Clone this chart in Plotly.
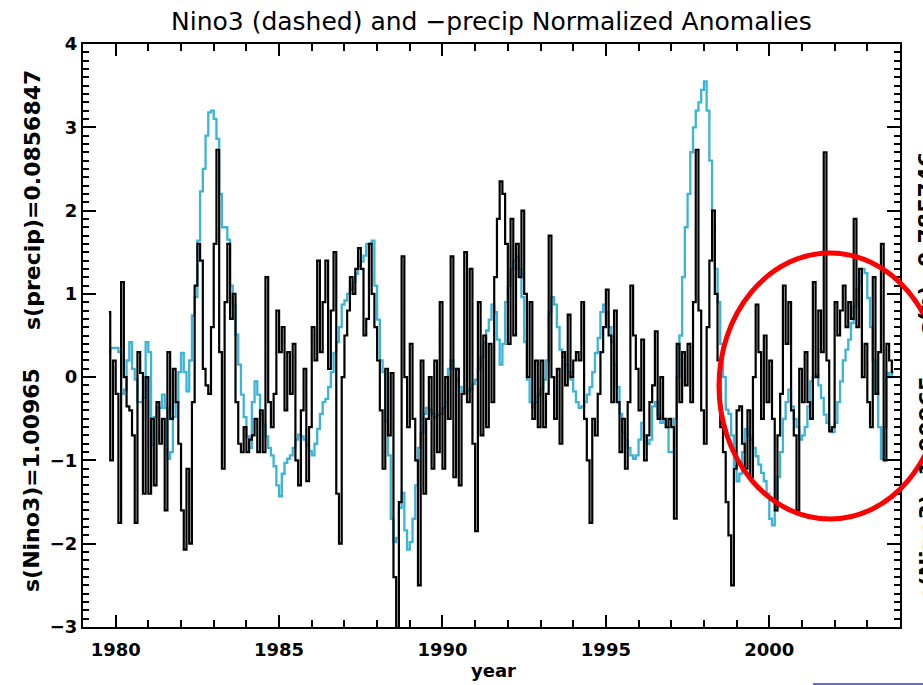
import plotly.graph_objects as go

# ---- data: monthly normalized anomalies, Oct 1979 .. Oct 2003 ----
start_year, start_month = 1979, 10

nino3 = [
    0.29, 0.35, 0.35,
    0.35, 0.30, -0.20, -0.15, 0.20, 0.42, 0.10, -0.03, -0.30, -0.30, -0.25, 0.42,
    0.30, -0.82, -0.48, -0.37, -0.37, -0.21, -0.37, -0.98, -0.90, -0.48, -0.30, 0.06,
    0.29, 0.06, -0.17, 0.20, 0.74, 0.96, 1.64, 2.23, 2.50, 2.90, 3.18, 3.20,
    3.10, 2.86, 2.20, 1.80, 1.80, 1.65, 1.10, 0.87, 0.51, 0.15, -0.21, -0.48,
    -0.71, -0.85, -0.30, -0.05, -0.21, -0.44, -0.57, -0.71, -0.85, -0.94, -1.07, -1.30,
    -1.43, -1.16, -1.03, -0.98, -0.94, -0.85, -0.75, -0.69, -0.71, -0.75, -0.82, -0.89,
    -0.94, -0.80, -0.62, -0.44, -0.30, -0.26, -0.12, 0.06, 0.29, 0.42, 0.60, 0.87,
    0.92, 1.00, 1.05, 1.14, 1.24, 1.33, 1.39, 1.46, 1.60, 1.60, 1.64, 1.10,
    0.69, 0.20, 0.06, -0.53, -0.94, -1.70, -1.98, -1.93, -1.57, -1.39, -1.84, -2.07,
    -1.98, -1.70, -1.30, -0.85, -0.67, -0.44, -0.37, -0.39, -0.44, -0.48, -0.46, -0.44,
    -0.37, -0.30, 0.10, 0.20, 0.10, -0.03, -0.12, -0.17, -0.19, -0.17, -0.15, -0.08,
    -0.03, 0.10, 0.24, 0.42, 0.56, 0.69, 0.87, 0.78, 0.45, 0.15, 0.40, 0.90,
    1.10, 1.30, 1.40, 1.45, 1.30, 0.96, 0.42, -0.03, -0.30, -0.37, -0.30, -0.21,
    -0.14, -0.03, 0.20, 0.78, 0.96, 0.87, 0.60, 0.33, 0.24, 0.15, 0.06, -0.03,
    -0.17, -0.30, -0.37, -0.35, -0.30, -0.21, -0.12, 0.06, 0.29, 0.47, 0.78, 0.87,
    0.78, 0.60, 0.42, 0.15, -0.12, -0.44, -0.67, -0.75, -0.85, -0.94, -0.98, -0.94,
    -0.75, -0.55, -0.70, -0.80, -0.75, -0.35, -0.30, -0.45, -0.55, -0.50, -0.60, -0.90,
    -0.90, -0.50, 0.00, 0.50, 1.20, 1.80, 2.20, 2.70, 3.00, 3.20, 3.30, 3.45,
    3.55, 3.20, 2.60, 2.00, 1.30, 0.90, 0.40, 0.00, -0.39, -0.44, -0.70, -1.07,
    -1.25, -1.16, -0.90, -0.62, -0.70, -0.75, -0.85, -0.95, -1.05, -1.15, -1.25, -1.40,
    -1.70, -1.78, -1.60, -1.20, -0.90, -0.50, -0.30, -0.15, -0.35, -0.50, -0.60, -0.75,
    -0.70, -0.60, -0.35, -0.05, 0.00, 0.02, -0.10, -0.25, -0.45, -0.55, -0.62, -0.66,
    -0.55, -0.30, -0.05, 0.20, 0.33, 0.45, 0.65, 0.85, 1.05, 1.15, 1.30, 1.25,
    0.95, 0.60, 0.20, -0.20, -0.60, -0.98, -0.60, 0.05, 0.00, 0.05,
]

neg_precip = [
    0.78, -1.00, 0.20,
    -0.20, -1.75, 1.14, 0.00, -0.35, -0.40, -0.70, -1.75, 0.30, 0.05, -1.40, 0.00,
    -1.40, -0.50, -1.30, -0.30, -0.80, -0.50, -1.60, 0.30, -0.50, 0.10, -0.30, -0.80,
    -1.60, -2.07, -1.10, -2.00, -0.30, 1.10, 1.60, 1.40, 0.10, -0.10, -0.20, 0.60,
    1.60, 2.73, 0.30, -1.10, 0.90, 1.60, 0.70, 1.00, -0.30, -0.80, -0.90, -0.60,
    -0.90, -0.75, -0.70, -0.50, -0.90, -0.40, -0.90, 1.20, -0.30, -0.60, -0.20, 0.80,
    0.30, 0.60, -0.40, 0.30, -0.20, 0.40, -1.00, -1.30, -0.40, 0.10, -1.25, -0.60,
    0.60, 0.20, 1.40, 0.30, 0.90, 1.40, 0.10, 0.80, 1.50, -1.40, -2.00, 0.00,
    0.50, 0.80, 1.20, 1.00, 1.30, 1.55, 1.30, 0.50, 0.70, 1.60, 1.00, 0.60,
    0.20, -0.40, -1.10, 0.10, -0.70, 0.05, -2.40, -3.20, -1.50, 1.45, 0.00, -0.60,
    0.40, -0.50, -1.00, -2.50, 0.20, -1.40, -0.50, 0.00, -1.10, 0.20, -0.90, 0.90,
    -1.10, 0.00, -0.50, 1.45, -1.20, 0.10, -1.30, -0.20, 1.50, -0.30, 1.30, -0.80,
    -1.85, 0.90, -0.70, 0.50, -0.60, 0.40, -0.30, 1.20, 1.90, 2.35, 2.20, 1.60,
    0.40, 1.90, 0.50, 1.60, 1.20, 2.00, 1.00, 0.00, 0.90, -0.50, 0.20, -0.60,
    0.20, -0.60, -0.20, 1.70, 0.00, -0.50, 0.10, -0.80, 0.30, -0.10, 0.75, 0.00,
    0.20, 0.30, 0.20, 0.90, -0.50, -1.00, -1.75, -0.50, -0.70, -0.20, 0.30, 0.60,
    1.05, 0.50, -0.30, 0.80, -0.30, -0.90, -0.50, -1.10, -0.30, 1.10, 0.50, 0.10,
    -0.40, 0.45, -1.00, -0.70, -0.30, -0.10, 0.55, -0.50, 0.00, -0.50, -0.60, -0.50,
    -0.60, -1.70, 0.40, -0.30, 0.30, -0.10, 0.40, -0.30, 0.90, 2.73, 0.80, -0.40,
    -0.80, 0.60, 1.40, 2.00, 1.00, 0.20, -0.60, -0.90, -1.50, -1.90, -2.50, -1.10,
    -0.40, -0.35, -0.80, -1.10, -0.40, -1.20, 0.00, 0.87, 0.30, -0.50, 0.50, -0.30,
    0.20, -0.50, -1.60, -0.70, -0.20, 1.10, 0.40, 0.90, -0.40, -0.70, -1.60, 0.10,
    -0.30, 0.30, -0.30, -0.50, 1.14, 0.00, 0.80, 0.30, 2.70, 0.20, -0.65, -0.60,
    0.90, 0.50, 0.80, 1.10, 0.60, 0.90, 0.70, 1.90, 0.60, 1.30, 0.00, 0.40,
    -0.30, -0.60, 1.20, -0.20, 0.30, 1.60, -1.00, 0.40, 0.20, 0.06,
]

title_text = "Nino3 (dashed) and \u2212precip Normalized Anomalies"
left_labels = ["s(Nino3)=1.00965", "s(precip)=0.0856847"]
right_labels = ["s(Nino3)=1.00965", "s(p)=0.785746"]
x_label = "year"

# decimal-year time axis (mid-month)
years = [start_year + (start_month - 1 + i + 0.5) / 12.0 for i in range(len(nino3))]

# ---- layout geometry (pixels) ----
W, H = 923, 685
L, R, T, B = 83, 900, 44, 627
PW, PH = R - L, B - T


def px_x(px):
    return (px - L) / PW


def px_y(py):
    return (B - py) / PH


CYAN = "#3ab4d8"
FONT = "DejaVu Sans"

fig = go.Figure()
fig.add_trace(go.Scatter(x=years, y=nino3, mode="lines",
                         line=dict(color=CYAN, width=2.3, shape="hvh"),
                         name="Nino3", showlegend=False))
fig.add_trace(go.Scatter(x=years, y=neg_precip, mode="lines",
                         line=dict(color="black", width=2.2, shape="hvh"),
                         name="-precip", showlegend=False))

tickfont = dict(family=FONT, size=18, color="black", weight="bold")

fig.update_xaxes(range=[1979, 2004], tickmode="linear", tick0=1980, dtick=5,
                 ticks="inside", ticklen=12, tickwidth=2, tickcolor="black",
                 showline=True, linewidth=2, linecolor="black", mirror="allticks",
                 showgrid=False, zeroline=False, tickfont=tickfont,
                 ticklabelstandoff=5,
                 minor=dict(tickmode="linear", tick0=1979, dtick=1, ticks="inside",
                            ticklen=7, tickwidth=2, tickcolor="black", showgrid=False))
fig.update_yaxes(range=[-3, 4], tickmode="linear", tick0=0, dtick=1,
                 ticks="inside", ticklen=13, tickwidth=2, tickcolor="black",
                 showline=True, linewidth=2, linecolor="black", mirror="allticks",
                 showgrid=False, zeroline=False, tickfont=tickfont,
                 minor=dict(tickmode="linear", tick0=0, dtick=0.1, ticks="inside",
                            ticklen=6, tickwidth=1.5, tickcolor="black", showgrid=False))

ann = []
ann.append(dict(text=title_text, x=px_x(491), y=px_y(21), xref="paper", yref="paper",
                xanchor="center", yanchor="middle", showarrow=False,
                font=dict(family=FONT, size=25, color="black")))
ann.append(dict(text=x_label, x=px_x(493), y=px_y(670), xref="paper", yref="paper",
                xanchor="center", yanchor="middle", showarrow=False,
                font=dict(family=FONT, size=18, color="black", weight="bold")))
lab_font = dict(family=FONT, size=22, color="black", weight="bold")
ann.append(dict(text=left_labels[0], x=px_x(32), y=px_y(480), xref="paper", yref="paper",
                xanchor="center", yanchor="middle", textangle=-90, showarrow=False,
                font=lab_font))
ann.append(dict(text=left_labels[1], x=px_x(32), y=px_y(200), xref="paper", yref="paper",
                xanchor="center", yanchor="middle", textangle=-90, showarrow=False,
                font=lab_font))
# right-hand labels: in the reference they run off the right edge of the page
ann.append(dict(text=right_labels[0], x=px_x(912), y=px_y(488), xref="paper", yref="paper",
                xanchor="left", yanchor="middle", textangle=-90, showarrow=False,
                font=lab_font))
ann.append(dict(text=right_labels[1], x=px_x(912), y=px_y(243), xref="paper", yref="paper",
                xanchor="left", yanchor="middle", textangle=-90, showarrow=False,
                font=lab_font))

shapes = [
    dict(type="circle", xref="paper", yref="paper",
         x0=px_x(719), x1=px_x(941), y0=px_y(519), y1=px_y(253),
         line=dict(color="#ff0000", width=5), layer="above"),
    dict(type="line", xref="paper", yref="paper",
         x0=px_x(813), x1=px_x(923), y0=px_y(684), y1=px_y(684),
         line=dict(color="#3a3ac0", width=1.5)),
]

fig.update_layout(width=W, height=H, autosize=False,
                  margin=dict(l=L, r=W - R, t=T, b=H - B, pad=0),
                  paper_bgcolor="white", plot_bgcolor="white",
                  annotations=ann, shapes=shapes, showlegend=False)

# remove the default 8px page margin so the figure sits at the window origin
fig.write_html("out.html", config={"displayModeBar": False},
               post_script="document.body.style.margin='0';document.body.style.overflow='hidden';")
